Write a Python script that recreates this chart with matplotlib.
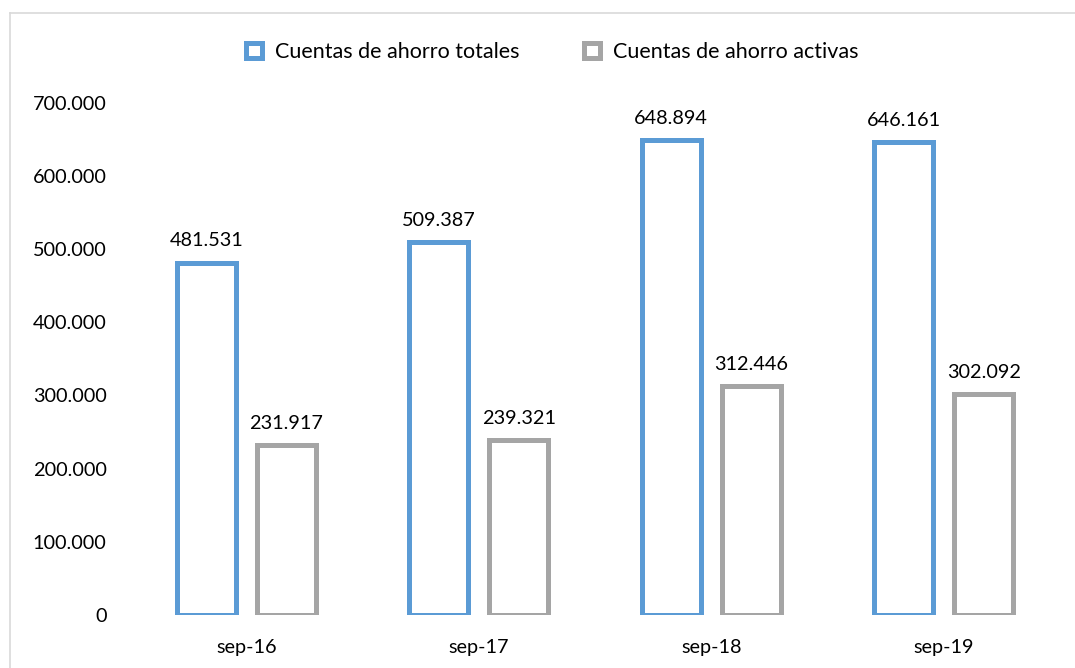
import matplotlib.pyplot as plt
import numpy as np
from matplotlib.patches import Patch
from matplotlib.lines import Line2D

periodos = ['sep-16', 'sep-17', 'sep-18', 'sep-19']
totales = [481531, 509387, 648894, 646161]
activas = [231917, 239321, 312446, 302092]
series = ['Cuentas de ahorro totales', 'Cuentas de ahorro activas']

azul = '#5B9BD5'
gris = '#A5A5A5'

plt.rcParams['font.family'] = ['Lato', 'DejaVu Sans']


def miles(v):
    return f'{v:,.0f}'.replace(',', '.')


fig = plt.figure(figsize=(10.75, 6.68), dpi=100)
ax = fig.add_axes([0.121, 0.0793, 0.865, 0.767])

x = np.arange(len(periodos))
ancho = 0.253
off = 0.172
b1 = ax.bar(x - off, totales, ancho, facecolor='white', edgecolor=azul, linewidth=3.6)
b2 = ax.bar(x + off, activas, ancho, facecolor='white', edgecolor=gris, linewidth=3.6)

for barras, vals in [(b1, totales), (b2, activas)]:
    for b, v in zip(barras, vals):
        ax.annotate(miles(v), (b.get_x() + b.get_width() / 2, v),
                    xytext=(0, 9.5), textcoords='offset points',
                    ha='center', va='bottom', fontsize=14.3, color='#000000')

ax.set_xlim(-0.5, 3.5)
ax.set_ylim(0, 700000)
ax.set_yticks(range(0, 700001, 100000))
ax.set_yticklabels([miles(v) for v in range(0, 700001, 100000)], fontsize=14.3)
ax.set_xticks(x)
ax.set_xticklabels(periodos, fontsize=14.3)
ax.tick_params(length=0)
ax.tick_params(axis='y', pad=17)
ax.tick_params(axis='x', pad=17)
for s in ax.spines.values():
    s.set_visible(False)

handles = [Patch(facecolor='white', edgecolor=azul, linewidth=3.6),
           Patch(facecolor='white', edgecolor=gris, linewidth=3.6)]
fig.legend(handles, series, loc='center', bbox_to_anchor=(0.514, 0.922), ncol=2,
           frameon=False, fontsize=15.5, handlelength=0.75, handleheight=0.75,
           handletextpad=0.6, columnspacing=3.0)

# marco del grafico
fig.add_artist(Line2D([10 / 1075, 1], [1 - 13 / 668, 1 - 13 / 668], color='#D9D9D9', lw=1.2))
fig.add_artist(Line2D([10 / 1075, 10 / 1075], [0, 1 - 13 / 668], color='#D9D9D9', lw=1.2))

fig.savefig('out.png', dpi=100, facecolor='white')
